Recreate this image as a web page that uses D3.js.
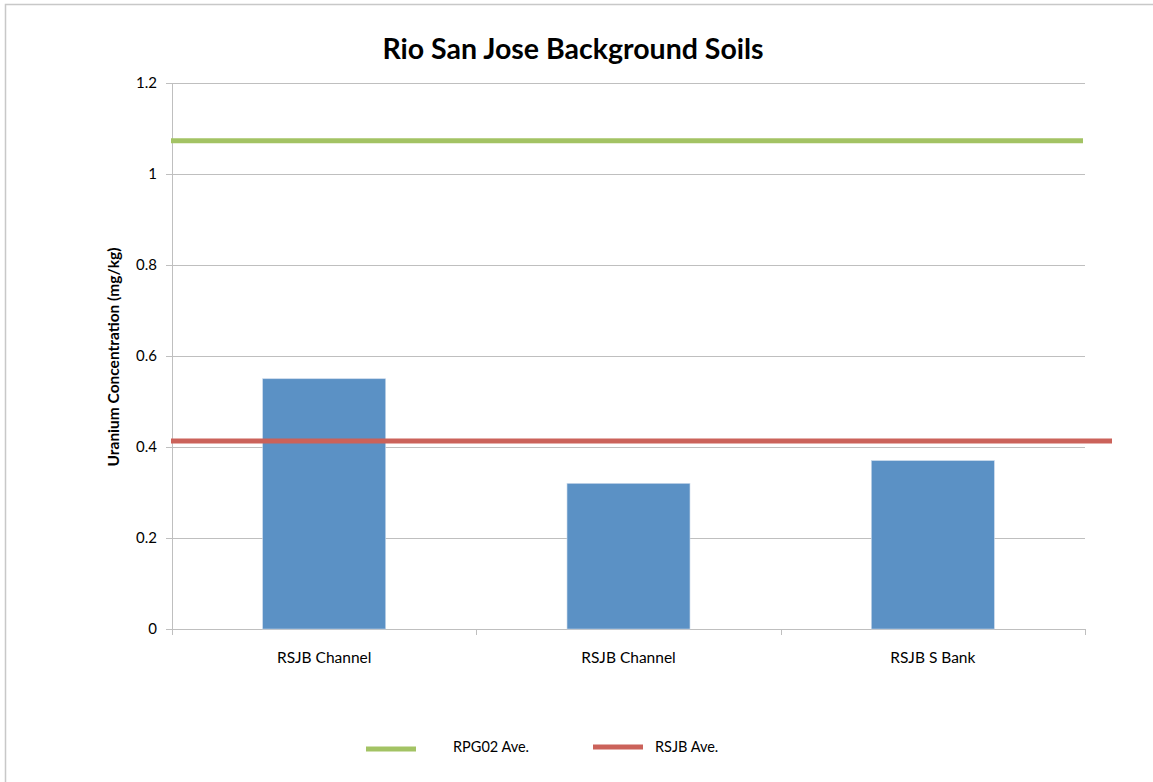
<!DOCTYPE html>
<html>
<head>
<meta charset="utf-8">
<script src="https://cdn.jsdelivr.net/npm/d3@7/dist/d3.min.js"></script>
<style>
  html, body { margin: 0; padding: 0; background: #fff; }
  svg { display: block; font-family: Lato, "Open Sans", sans-serif; }
</style>
</head>
<body>
<svg id="chart" width="1153" height="782"></svg>
<script>
// Uranium concentration per sample location (mg/kg)
const categories = ["RSJB Channel", "RSJB Channel ", "RSJB S Bank"];
const uranium = [0.55, 0.32, 0.37];

// Reference averages drawn as horizontal lines
const averageNames = ["RPG02 Ave.", "RSJB Ave."];
const averageValues = [1.073, 0.413];
const averageColors = ["#a3c364", "#cb625a"];

const yTicks = [0, 0.2, 0.4, 0.6, 0.8, 1, 1.2];
const yTickLabels = ["0", "0.2", "0.4", "0.6", "0.8", "1", "1.2"];

const svg = d3.select("#chart");
const plot = { left: 172, right: 1085, top: 83, bottom: 629 };

// outer frame
svg.append("rect")
  .attr("x", 5.5).attr("y", 4.5)
  .attr("width", 1200).attr("height", 800)
  .attr("fill", "none").attr("stroke", "#c8c8c8").attr("stroke-width", 1.5);

const x = d3.scaleBand()
  .domain(categories)
  .range([plot.left, plot.right])
  .paddingInner(0.596).paddingOuter(0.298);

const xGroups = d3.scaleBand()
  .domain(categories)
  .range([plot.left, plot.right]);

const y = d3.scaleLinear().domain([0, 1.2]).range([plot.bottom, plot.top]);

// horizontal gridlines
svg.append("g")
  .selectAll("line")
  .data(yTicks)
  .join("line")
  .attr("x1", plot.left - 6).attr("x2", plot.right)
  .attr("y1", d => Math.round(y(d)) + 0.5).attr("y2", d => Math.round(y(d)) + 0.5)
  .attr("stroke", "#bfbfbf").attr("stroke-width", 1);

// y axis line
svg.append("line")
  .attr("x1", plot.left + 0.5).attr("x2", plot.left + 0.5)
  .attr("y1", plot.top).attr("y2", plot.bottom + 1)
  .attr("stroke", "#bfbfbf");

// y tick labels
svg.append("g")
  .selectAll("text")
  .data(yTicks)
  .join("text")
  .attr("x", plot.left - 15)
  .attr("y", d => y(d))
  .attr("dy", "0.35em")
  .attr("text-anchor", "end")
  .attr("font-size", 15)
  .attr("fill", "#000")
  .text((d, i) => yTickLabels[i]);

// x category tick marks
const xTickPos = categories.map(c => xGroups(c)).concat([plot.right]);
svg.append("g")
  .selectAll("line")
  .data(xTickPos)
  .join("line")
  .attr("x1", d => Math.round(d) + 0.5).attr("x2", d => Math.round(d) + 0.5)
  .attr("y1", plot.bottom).attr("y2", plot.bottom + 6)
  .attr("stroke", "#bfbfbf");

// bars
svg.append("g")
  .selectAll("rect")
  .data(uranium)
  .join("rect")
  .attr("x", (d, i) => x(categories[i]))
  .attr("y", d => y(d))
  .attr("width", x.bandwidth())
  .attr("height", d => y(0) - y(d))
  .attr("fill", "#5b91c5")
  .attr("stroke", "#c7d8ea").attr("stroke-width", 0.6);

// x labels
svg.append("g")
  .selectAll("text")
  .data(categories)
  .join("text")
  .attr("x", d => xGroups(d) + xGroups.bandwidth() / 2)
  .attr("y", 663)
  .attr("text-anchor", "middle")
  .attr("font-size", 15.5)
  .attr("fill", "#000")
  .text(d => d.trim());

// average lines
const lineEnds = [plot.right - 2, 1112];
svg.append("g")
  .selectAll("line")
  .data(averageValues)
  .join("line")
  .attr("x1", plot.left - 1)
  .attr("x2", (d, i) => lineEnds[i])
  .attr("y1", d => y(d)).attr("y2", d => y(d))
  .attr("stroke", (d, i) => averageColors[i])
  .attr("stroke-width", 5);

// title
svg.append("text")
  .attr("x", 573).attr("y", 59)
  .attr("text-anchor", "middle")
  .attr("font-size", 28.5)
  .attr("font-weight", "bold")
  .attr("fill", "#000")
  .text("Rio San Jose Background Soils");

// y axis title
svg.append("text")
  .attr("transform", "translate(119,357) rotate(-90)")
  .attr("text-anchor", "middle")
  .attr("font-size", 15.5)
  .attr("font-weight", "bold")
  .attr("fill", "#000")
  .text("Uranium Concentration (mg/kg)");

// legend
const legendX = [366, 593];
const legendTextX = [453, 655];
const legendY = [749, 747];
const legend = svg.append("g");
averageNames.forEach((name, i) => {
  legend.append("line")
    .attr("x1", legendX[i]).attr("x2", legendX[i] + 50)
    .attr("y1", legendY[i]).attr("y2", legendY[i])
    .attr("stroke", averageColors[i]).attr("stroke-width", 5);
  legend.append("text")
    .attr("x", legendTextX[i]).attr("y", 747)
    .attr("dy", "0.35em")
    .attr("font-size", 14.5)
    .attr("fill", "#000")
    .text(name);
});
</script>
</body>
</html>
